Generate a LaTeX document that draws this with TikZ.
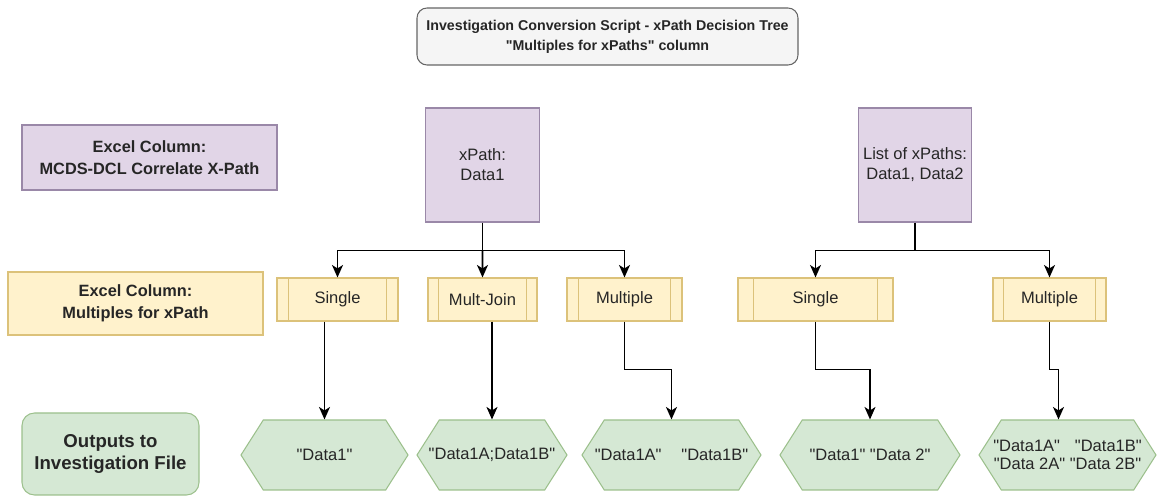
\documentclass[tikz,border=0pt]{standalone}
\usepackage{fontspec}
\setmainfont{Liberation Sans}[Ligatures=TeXOff]
\usepackage{xcolor}
\usepackage{tikz}
\usetikzlibrary{positioning, shapes.symbols, arrows.meta, calc}

\definecolor{purfill}{HTML}{E1D5E7}
\definecolor{purline}{HTML}{9A88A8}
\definecolor{yelfill}{HTML}{FFF2CC}
\definecolor{yelline}{HTML}{DCC27A}
\definecolor{grnfill}{HTML}{D5E8D4}
\definecolor{grnline}{HTML}{9CC08C}
\definecolor{titfill}{HTML}{F5F5F5}
\definecolor{titline}{HTML}{666666}

\begin{document}
\begin{tikzpicture}[on grid, text=black!85, font=\fontsize{9.4}{11.3}\selectfont,
    plainbox/.style={rectangle, line width=0.6pt, align=center, inner sep=1pt},
    xpbox/.style={plainbox, draw=purline, fill=purfill, minimum width=2.27cm, minimum height=2.28cm},
    colhead/.style={plainbox, font=\fontsize{9.3}{12.4}\selectfont\bfseries, minimum width=5.1cm},
    procbox/.style={plainbox, draw=yelline, fill=yelfill, minimum height=0.86cm},
    outhex/.style={signal, signal to=west and east, signal pointer angle=115, draw=grnline, fill=grnfill,
        line width=0.6pt, align=center, inner xsep=-0.3cm, inner ysep=1pt, minimum height=1.4cm,
        font=\fontsize{9.4}{10.4}\selectfont},
    flow/.style={-{Stealth[length=2.5mm, width=2.2mm, inset=0.7mm]}, line width=0.9pt}]

    \useasboundingbox (0,0) rectangle (23.14,-9.94);

    \node[plainbox, draw=titline, fill=titfill, rounded corners=0.2cm, minimum width=7.62cm, minimum height=1.14cm,
        font=\fontsize{8.1}{11.3}\selectfont\bfseries] (title) at (12.15,-0.73)
        {Investigation Conversion Script - xPath Decision Tree\\"Multiples for xPaths" column};

    % row headings on the left
    \node[colhead, draw=purline, fill=purfill, minimum height=1.3cm] (colx) at (2.99,-3.15) {Excel Column:\\MCDS-DCL Correlate X-Path};
    \node[colhead, draw=yelline, fill=yelfill, minimum height=1.26cm] (colm) at (2.71,-6.07) {Excel Column:\\Multiples for xPath};
    \node[colhead, draw=grnline, fill=grnfill, rounded corners=0.25cm, minimum width=3.54cm, minimum height=1.64cm,
        font=\fontsize{10.6}{12.4}\selectfont\bfseries] (colo) at (2.21,-9.08) {Outputs to\\Investigation File};

    \node[xpbox] (xp1) at (9.65,-3.30) {xPath:\\Data1};
    \node[xpbox] (xp2) [right=8.65cm of xp1] {List of xPaths:\\Data1, Data2};

    \node[procbox, minimum width=2.42cm] (s1) at (6.75,-5.99) {Single};
    \node[procbox, minimum width=2.18cm] (mj) [right=2.9cm of s1] {Mult-Join};
    \node[procbox, minimum width=2.3cm] (m1) [right=2.84cm of mj] {Multiple};
    \node[procbox, minimum width=3.1cm] (s2) [right=3.82cm of m1] {Single};
    \node[procbox, minimum width=2.26cm] (m2) [right=4.68cm of s2] {Multiple};

    \node[outhex, minimum width=3.34cm] (o1) at (6.49,-9.1) {"Data1"};
    \node[outhex, minimum width=3.0cm] (o2) [right=3.35cm of o1] {"Data1A;Data1B"};
    \node[outhex, minimum width=3.58cm] (o3) [right=3.59cm of o2] {"Data1A"\hspace{1.2em}"Data1B"};
    \node[outhex, minimum width=3.6cm] (o4) [right=3.97cm of o3] {"Data1" "Data 2"};
    \node[outhex, minimum width=3.54cm] (o5) [right=3.95cm of o4] {"Data1A"\hspace{0.9em}"Data1B"\\"Data 2A" "Data 2B"};

    % side bars of the process boxes
    \foreach \n in {s1,mj,m1,s2,m2}{
        \draw[yelline, line width=0.6pt] ($(\n.north west)!0.1!(\n.north east)$) -- ($(\n.south west)!0.1!(\n.south east)$);
        \draw[yelline, line width=0.6pt] ($(\n.north east)!0.1!(\n.north west)$) -- ($(\n.south east)!0.1!(\n.south west)$);
    }

    \coordinate (j1) at ($(xp1.south)+(0,-0.56)$);
    \coordinate (j2) at ($(xp2.south)+(0,-0.56)$);
    \draw[flow] (xp1.south) -- (j1) -| (s1.north);
    \draw[flow] (j1) -- (mj.north);
    \draw[flow] (j1) -| (m1.north);
    \draw[flow] (xp2.south) -- (j2) -| (s2.north);
    \draw[flow] (j2) -| (m2.north);

    \draw[flow] (s1.south -| o1.north) -- (o1.north);
    \draw[flow] (mj.south -| o2.north) -- (o2.north);
    \draw[flow] (m1.south) -- ++(0,-0.96) -| (o3.north);
    \draw[flow] (s2.south) -- ++(0,-0.96) -| (o4.north);
    \draw[flow] (m2.south) -- ++(0,-0.96) -| ([xshift=-0.18cm]o5.north);
\end{tikzpicture}
\end{document}
